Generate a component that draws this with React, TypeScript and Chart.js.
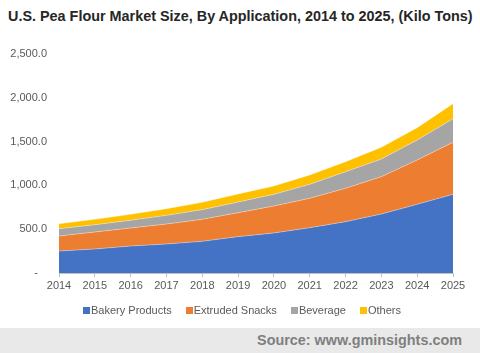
import React, { useEffect, useRef } from "react";
import { Chart, registerables } from "chart.js";

Chart.register(...registerables);

const years = ["2014", "2015", "2016", "2017", "2018", "2019", "2020", "2021", "2022", "2023", "2024", "2025"];
const bakeryProducts = [251, 274, 308, 331, 362, 415, 457, 517, 586, 673, 784, 898];
const extrudedSnacks = [171, 194, 206, 228, 251, 273, 308, 336, 381, 427, 506, 594];
const beverage = [84, 83, 88, 99, 110, 122, 133, 159, 189, 201, 228, 269];
const others = [57, 62, 68, 76, 84, 92, 95, 107, 115, 134, 141, 172];

const seriesNames = ["Bakery Products", "Extruded Snacks", "Beverage", "Others"];
const seriesColors = ["#4472C4", "#ED7D31", "#A5A5A5", "#FFC000"];

const FONT = "'Liberation Sans', Arial, sans-serif";

export default function App() {
  const ref = useRef<HTMLCanvasElement | null>(null);

  useEffect(() => {
    if (!ref.current) return;
    const values = [bakeryProducts, extrudedSnacks, beverage, others];
    const chart = new Chart(ref.current, {
      type: "line",
      data: {
        labels: years,
        datasets: seriesNames.map((label, i) => ({
          label,
          data: values[i],
          backgroundColor: seriesColors[i],
          borderColor: "rgba(255,255,255,0.45)",
          borderWidth: 0.8,
          pointRadius: 0,
          tension: 0,
          fill: i === 0 ? "origin" : "-1",
        })),
      },
      options: {
        animation: false,
        responsive: false,
        maintainAspectRatio: false,
        layout: { padding: { left: 0, right: 27, top: 24, bottom: 34 } },
        plugins: {
          tooltip: { enabled: false },
          title: { display: false },
          legend: { display: false },
        },
        scales: {
          x: {
            offset: false,
            afterFit: (s: any) => { s.height = 21; },
            grid: { drawOnChartArea: false, drawTicks: true, tickLength: 4, color: "#BFBFBF" },
            border: { display: true, color: "#BFBFBF" },
            ticks: { color: "#595959", font: { family: FONT, size: 11 }, padding: 2, maxRotation: 0, autoSkip: false },
          },
          y: {
            stacked: true,
            min: 0,
            max: 2500,
            afterFit: (s: any) => { s.width = 59; },
            grid: { display: false, drawTicks: false },
            border: { display: false },
            ticks: {
              stepSize: 500,
              padding: 12,
              color: "#595959",
              font: { family: FONT, size: 11 },
              callback: (v: any) =>
                Number(v) === 0
                  ? "-   "
                  : Number(v).toLocaleString("en-US", { minimumFractionDigits: 1, maximumFractionDigits: 1 }),
            },
          },
        },
      },
    });
    return () => chart.destroy();
  }, []);

  return (
    <div style={{ position: "fixed", left: 0, top: 0, width: 480, height: 353, background: "#fff", overflow: "hidden" }}>
      <div
        style={{
          position: "absolute",
          left: 8,
          top: 7,
          fontFamily: FONT,
          fontWeight: "bold",
          fontSize: 14.4,
          lineHeight: "18px",
          color: "#262626",
          whiteSpace: "nowrap",
        }}
      >
        U.S. Pea Flour Market Size, By Application, 2014 to 2025, (Kilo Tons)
      </div>
      <canvas ref={ref} width={480} height={298} style={{ position: "absolute", left: 0, top: 30, width: 480, height: 298 }} />
      <div
        style={{
          position: "absolute",
          left: 0,
          width: 480,
          top: 303,
          height: 14,
          display: "flex",
          justifyContent: "center",
          paddingLeft: 4,
          boxSizing: "border-box",
          fontFamily: FONT,
          fontSize: 11,
          lineHeight: "14px",
          color: "#595959",
          whiteSpace: "nowrap",
        }}
      >
        {seriesNames.map((name, i) => (
          <div key={name} style={{ display: "flex", alignItems: "center", marginRight: i < seriesNames.length - 1 ? 14 : 0 }}>
            <span style={{ display: "inline-block", width: 7, height: 7, background: seriesColors[i], marginRight: 1 }} />
            <span>{name}</span>
          </div>
        ))}
      </div>
      <div
        style={{
          position: "absolute",
          left: 0,
          top: 328,
          width: 480,
          height: 25,
          background: "#E9E9E9",
        }}
      >
        <div
          style={{
            position: "absolute",
            right: 18,
            top: 3,
            fontFamily: FONT,
            fontWeight: "bold",
            fontSize: 14.4,
            lineHeight: "18px",
            color: "#7F7F7F",
            whiteSpace: "nowrap",
          }}
        >
          Source: www.gminsights.com
        </div>
      </div>
    </div>
  );
}
